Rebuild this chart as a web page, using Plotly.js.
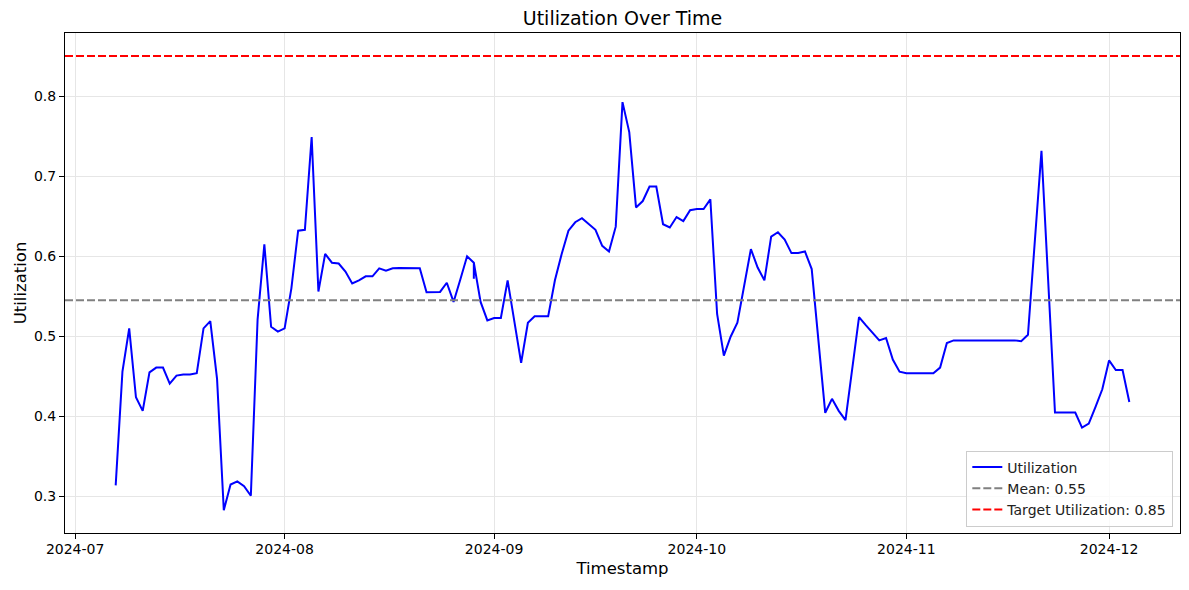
<!DOCTYPE html>
<html>
<head>
<meta charset="utf-8">
<script src="https://cdn.plot.ly/plotly-3.0.1.min.js"></script>
<style>
  html, body { margin: 0; padding: 0; background: #ffffff; }
  #chart { width: 1189px; height: 590px; }
</style>
</head>
<body>
<div id="chart"></div>
<script>
// ---- Data ----
const timestamps = [
  '2024-07-07','2024-07-08','2024-07-09','2024-07-10','2024-07-11','2024-07-12','2024-07-13','2024-07-14',
  '2024-07-15','2024-07-16','2024-07-17','2024-07-18','2024-07-19','2024-07-20','2024-07-21','2024-07-22',
  '2024-07-23','2024-07-24','2024-07-25','2024-07-26','2024-07-27','2024-07-28','2024-07-29','2024-07-30',
  '2024-07-31',
  '2024-08-01','2024-08-02','2024-08-03','2024-08-04','2024-08-05','2024-08-06','2024-08-07','2024-08-08',
  '2024-08-09','2024-08-10','2024-08-11','2024-08-12','2024-08-13','2024-08-14','2024-08-15','2024-08-16',
  '2024-08-17','2024-08-18','2024-08-19','2024-08-20','2024-08-21','2024-08-22','2024-08-23','2024-08-24',
  '2024-08-25','2024-08-26','2024-08-27','2024-08-28','2024-08-29','2024-08-29','2024-08-29','2024-08-30',
  '2024-08-31',
  '2024-09-01','2024-09-02','2024-09-03','2024-09-05','2024-09-06','2024-09-07','2024-09-08','2024-09-09',
  '2024-09-10','2024-09-11','2024-09-12','2024-09-13','2024-09-14','2024-09-15','2024-09-16','2024-09-17',
  '2024-09-18','2024-09-19','2024-09-20','2024-09-21','2024-09-22','2024-09-23','2024-09-24','2024-09-25',
  '2024-09-26','2024-09-27','2024-09-28','2024-09-29','2024-09-30',
  '2024-10-01','2024-10-02','2024-10-03','2024-10-04','2024-10-05','2024-10-06','2024-10-07','2024-10-09',
  '2024-10-10','2024-10-11','2024-10-12','2024-10-13','2024-10-14','2024-10-15','2024-10-16','2024-10-17',
  '2024-10-18','2024-10-20','2024-10-21','2024-10-22','2024-10-23','2024-10-25','2024-10-26','2024-10-27',
  '2024-10-28','2024-10-29','2024-10-30','2024-10-31',
  '2024-11-01','2024-11-02','2024-11-03','2024-11-04','2024-11-05','2024-11-06','2024-11-07','2024-11-08',
  '2024-11-09','2024-11-10','2024-11-11','2024-11-12','2024-11-13','2024-11-14','2024-11-15','2024-11-16',
  '2024-11-17','2024-11-18','2024-11-19','2024-11-21','2024-11-23','2024-11-24','2024-11-25','2024-11-26',
  '2024-11-27','2024-11-28','2024-11-29','2024-11-30',
  '2024-12-01','2024-12-02','2024-12-03','2024-12-04'
];

const utilization = [
  0.314,0.456,0.510,0.424,0.407,0.455,0.461,0.461,
  0.441,0.451,0.4525,0.4525,0.454,0.510,0.519,0.447,
  0.283,0.315,0.319,0.313,0.301,0.521,0.615,0.512,
  0.506,
  0.510,0.560,0.632,0.633,0.749,0.556,0.603,0.592,
  0.591,0.581,0.566,0.570,0.575,0.575,0.585,0.582,
  0.585,0.5855,0.5855,0.5855,0.585,0.555,0.555,0.5555,
  0.567,0.543,0.571,0.600,0.592,0.572,0.592,0.543,
  0.520,
  0.523,0.523,0.570,0.467,0.517,0.525,0.525,0.525,
  0.570,0.603,0.632,0.6425,0.6475,0.640,0.633,0.613,
  0.606,0.637,0.7925,0.755,0.661,0.669,0.687,0.687,
  0.640,0.636,0.649,0.644,0.6575,
  0.659,0.659,0.671,0.528,0.476,0.4996,0.517,0.609,
  0.586,0.570,0.6246,0.630,0.621,0.604,0.604,0.606,
  0.584,0.4046,0.422,0.407,0.3954,0.524,0.514,0.504,
  0.495,0.498,0.471,0.456,
  0.454,0.454,0.454,0.454,0.454,0.461,0.4917,0.495,
  0.495,0.495,0.495,0.495,0.495,0.495,0.495,0.495,
  0.495,0.494,0.502,0.7317,0.405,0.405,0.405,0.405,
  0.386,0.391,0.412,0.434,
  0.470,0.458,0.458,0.418
];

const meanUtilization = 0.545;     // position of the grey "Mean" line in the picture
const meanLabel = '0.55';
const targetUtilization = 0.85;

const xTickValues = ['2024-07-01','2024-08-01','2024-09-01','2024-10-01','2024-11-01','2024-12-01'];
const xTickLabels = ['2024-07','2024-08','2024-09','2024-10','2024-11','2024-12'];
const yTickValues = [0.3, 0.4, 0.5, 0.6, 0.7, 0.8];
const yTickLabels = ['0.3','0.4','0.5','0.6','0.7','0.8'];

// ---- Chart ----
const FONT = 'DejaVu Sans, Liberation Sans, sans-serif';
const DASH = '8px,3px';

const traces = [
  {
    type: 'scatter', mode: 'lines',
    x: timestamps, y: utilization,
    name: 'Utilization',
    line: { color: '#0000ff', width: 2 },
    legendrank: 1
  }
];

const layout = {
  width: 1189, height: 590,
  margin: { l: 65, r: 9, t: 33, b: 57, pad: 0 },
  paper_bgcolor: '#ffffff', plot_bgcolor: '#ffffff',
  font: { family: FONT, color: '#000000', size: 14 },
  title: {
    text: 'Utilization Over Time',
    font: { family: FONT, size: 19, color: '#000000' },
    x: 0.5, xref: 'paper', xanchor: 'center',
    y: 0.969, yref: 'container', yanchor: 'middle'
  },
  xaxis: {
    type: 'date',
    range: ['2024-06-29 12:00', '2024-12-11 12:00'],
    tickvals: xTickValues, ticktext: xTickLabels,
    ticks: 'outside', ticklen: 5, tickwidth: 1, tickcolor: '#000000',
    ticklabelstandoff: -2,
    showline: true, linecolor: '#000000', linewidth: 1, mirror: true,
    showgrid: true, gridcolor: '#e6e6e6', gridwidth: 1,
    zeroline: false,
    tickfont: { family: FONT, size: 14, color: '#000000' },
    title: { text: 'Timestamp', font: { family: FONT, size: 16.5, color: '#000000' }, standoff: 6 },
    automargin: false
  },
  yaxis: {
    range: [0.2545, 0.8788],
    tickvals: yTickValues, ticktext: yTickLabels,
    ticks: 'outside', ticklen: 5, tickwidth: 1, tickcolor: '#000000',
    showline: true, linecolor: '#000000', linewidth: 1, mirror: true,
    showgrid: true, gridcolor: '#e6e6e6', gridwidth: 1,
    zeroline: false,
    tickfont: { family: FONT, size: 14, color: '#000000' },
    title: { text: 'Utilization', font: { family: FONT, size: 16.5, color: '#000000' }, standoff: 3 },
    automargin: false
  },
  shapes: [
    {
      type: 'line', xref: 'x domain', yref: 'y',
      x0: 0, x1: 1, y0: meanUtilization, y1: meanUtilization,
      line: { color: '#808080', width: 2, dash: DASH },
      showlegend: true, name: 'Mean: ' + meanLabel, legendrank: 2
    },
    {
      type: 'line', xref: 'x domain', yref: 'y',
      x0: 0, x1: 1, y0: targetUtilization, y1: targetUtilization,
      line: { color: '#ff0000', width: 2, dash: DASH },
      showlegend: true, name: 'Target Utilization: ' + targetUtilization.toFixed(2), legendrank: 3
    }
  ],
  legend: {
    x: 0.994, y: 0.013, xanchor: 'right', yanchor: 'bottom',
    bgcolor: 'rgba(255,255,255,0.8)', bordercolor: '#cccccc', borderwidth: 1,
    font: { family: FONT, size: 14, color: '#222222' },
    itemwidth: 30, tracegroupgap: 0
  },
  showlegend: true
};

Plotly.newPlot('chart', traces, layout, { displayModeBar: false, staticPlot: true });
</script>
</body>
</html>
